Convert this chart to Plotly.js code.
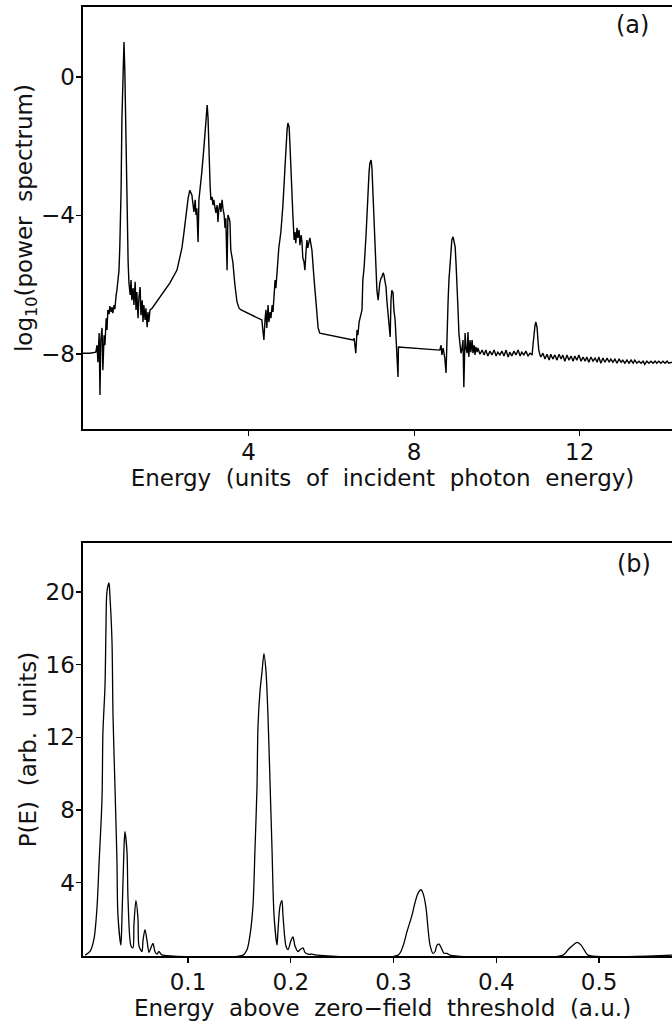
<!DOCTYPE html>
<html>
<head>
<meta charset="utf-8">
<script src="https://cdn.plot.ly/plotly-3.0.1.min.js"></script>
<style>
html, body { margin: 0; padding: 0; overflow: hidden; background: #fff; }
#chart { width: 690px; height: 1034px; }
</style>
</head>
<body>
<div id="chart"></div>
<script>
// Panel (a): log10(power spectrum) vs energy (units of incident photon energy)
const aEnergy = [
 0.00,0.17,0.31,0.34,0.36,0.39,0.41,0.43,0.46,0.48,0.51,0.53,0.56,0.58,0.60,0.63,0.65,0.68,0.70,0.72,
 0.75,0.77,0.80,0.82,0.85,0.87,0.89,0.92,0.94,0.97,0.99,1.01,1.04,1.06,1.09,1.11,1.14,1.16,1.18,1.21,
 1.23,1.26,1.28,1.30,1.33,1.35,1.38,1.40,1.43,1.45,1.47,1.50,1.52,1.55,1.57,1.59,1.62,1.67,
 1.86,2.10,2.27,2.34,2.39,2.44,2.49,2.54,2.58,2.63,2.66,2.68,2.71,2.73,2.75,2.78,2.80,2.83,2.87,2.92,
 2.97,3.00,3.02,3.04,3.07,3.09,3.12,3.14,3.16,3.19,3.21,3.24,3.26,3.28,3.31,3.33,3.36,3.38,3.41,3.43,
 3.45,3.48,3.50,3.53,3.55,3.57,3.62,3.67,3.72,3.77,3.82,
 4.32,4.35,4.37,4.40,4.42,4.44,4.47,4.49,4.52,4.54,4.57,4.59,4.61,4.64,4.66,4.69,4.71,4.73,4.78,4.83,
 4.88,4.90,4.93,4.95,4.98,5.00,5.02,5.05,5.07,5.10,5.12,5.14,5.17,5.19,5.22,5.24,5.27,5.29,5.31,5.34,
 5.36,5.39,5.41,5.43,5.46,5.48,5.51,5.53,5.58,5.63,5.68,5.72,
 6.21,6.52,6.55,6.57,6.59,6.62,6.64,6.67,6.69,6.74,6.76,6.79,6.84,6.88,6.91,6.93,6.96,6.98,7.00,7.03,
 7.05,7.08,7.10,7.13,7.15,7.17,7.20,7.22,7.25,7.27,7.29,7.32,7.34,7.37,7.39,7.42,7.44,7.46,7.49,7.51,
 7.54,7.56,7.58,7.61,7.62,
 8.62,8.65,8.67,8.70,8.72,8.74,8.77,8.79,8.82,8.84,8.86,8.89,8.91,8.94,8.96,8.99,9.01,9.03,9.06,9.08,
 9.11,9.13,9.15,9.18,9.20,9.23,9.25,9.28,9.30,9.32,9.35,9.37,9.40,9.42,9.45,9.47,9.49,9.52,9.54,9.59,
 9.64,9.69,9.73,9.78,9.83,9.88,9.93,9.98,10.02,10.07,10.12,10.17,10.22,10.27,10.31,10.36,10.41,10.46,10.51,10.56,
 10.60,10.65,10.70,10.75,10.80,10.85,10.87,10.89,10.92,10.94,10.97,10.99,11.01,11.04,11.06,
 11.11,11.16,11.21,11.26,11.30,11.35,11.40,11.45,11.50,11.55,11.59,11.64,11.69,11.74,11.79,11.84,11.88,11.93,11.98,12.03,
 12.08,12.13,12.17,12.22,12.27,12.32,12.37,12.42,12.46,12.51,12.56,12.61,12.66,12.71,12.75,12.80,12.85,12.90,12.95,13.00,
 13.04,13.09,13.14,13.19,13.24,13.29,13.33,13.38,13.43,13.48,13.53,13.57,13.62,13.67,13.72,13.77,13.82,13.86,13.91,13.96,
 14.01,14.06,14.11,14.15,14.23
];
const aLogPower = [
 -7.98,-7.98,-7.95,-7.75,-8.24,-7.40,-9.19,-7.60,-7.25,-8.47,-7.46,-7.75,-6.97,-7.31,-6.73,-6.85,-6.62,-6.79,-6.65,-6.82,
 -6.59,-6.71,-6.30,-6.16,-5.81,-5.58,-4.86,-3.27,-1.24,0.49,1.01,0.20,-2.11,-4.13,-5.35,-5.95,-6.30,-5.87,-6.45,-6.10,
 -6.59,-5.92,-6.73,-6.21,-6.97,-6.39,-6.07,-6.88,-6.45,-7.08,-6.59,-7.02,-6.68,-7.23,-6.79,-7.08,-6.73,-6.68,
 -6.36,-5.95,-5.58,-5.20,-4.94,-4.48,-3.96,-3.50,-3.27,-3.41,-3.70,-3.90,-3.55,-3.99,-3.79,-4.77,-3.55,-3.27,-2.75,-2.05,
 -1.24,-0.81,-1.18,-2.11,-3.12,-3.55,-3.47,-3.70,-3.55,-3.79,-3.93,-3.70,-4.19,-3.84,-3.64,-3.90,-3.55,-3.79,-3.99,-4.36,
 -4.08,-5.58,-3.99,-4.08,-4.19,-5.00,-5.35,-6.01,-6.50,-6.68,-6.73,
 -7.02,-7.31,-7.60,-6.97,-6.73,-7.25,-6.59,-7.08,-6.79,-6.97,-6.59,-6.79,-6.30,-5.87,-6.10,-5.49,-5.00,-4.94,-4.48,-3.70,
 -2.60,-2.05,-1.53,-1.33,-1.45,-1.97,-2.69,-3.41,-3.99,-4.71,-4.48,-4.80,-4.36,-4.65,-4.42,-4.86,-4.57,-4.77,-5.23,-5.35,
 -5.58,-5.00,-4.71,-4.94,-4.80,-4.65,-4.86,-5.00,-5.81,-6.59,-7.25,-7.40,
 -7.51,-7.60,-7.55,-7.83,-7.98,-7.31,-7.46,-7.08,-6.97,-6.73,-5.87,-5.52,-4.51,-3.18,-2.75,-2.49,-2.40,-2.63,-3.18,-3.99,
 -4.71,-5.52,-6.16,-6.45,-6.21,-5.95,-5.81,-5.78,-5.66,-5.72,-5.87,-6.07,-6.45,-6.94,-7.17,-7.51,-6.45,-6.16,-6.24,-6.73,
 -7.02,-7.46,-7.69,-8.67,-7.80,
 -7.89,-7.75,-8.03,-7.83,-7.95,-8.12,-8.55,-7.40,-6.45,-5.87,-5.43,-5.09,-4.71,-4.62,-4.71,-4.91,-5.35,-6.16,-6.73,-7.40,
 -7.75,-7.98,-7.89,-7.60,-8.96,-7.40,-7.83,-7.98,-7.37,-8.09,-7.60,-7.95,-7.60,-7.98,-7.75,-8.03,-7.80,-7.95,-7.83,-8.01,
 -7.89,-8.03,-7.89,-8.06,-7.92,-8.03,-7.89,-8.06,-7.95,-8.03,-7.92,-8.06,-7.89,-8.09,-7.95,-8.06,-7.92,-8.03,-7.89,-8.06,
 -7.95,-8.03,-7.92,-8.06,-7.98,-8.03,-7.75,-7.40,-7.17,-7.08,-7.25,-7.60,-7.89,-8.03,-8.09,
 -7.98,-8.15,-8.01,-8.18,-8.01,-8.15,-8.03,-8.18,-8.01,-8.15,-8.03,-8.21,-8.03,-8.18,-8.06,-8.21,-8.06,-8.18,-8.03,-8.21,
 -8.09,-8.21,-8.09,-8.24,-8.09,-8.21,-8.12,-8.24,-8.09,-8.27,-8.12,-8.24,-8.12,-8.24,-8.15,-8.24,-8.15,-8.27,-8.15,-8.24,
 -8.18,-8.27,-8.18,-8.27,-8.18,-8.27,-8.18,-8.27,-8.21,-8.27,-8.21,-8.30,-8.21,-8.27,-8.21,-8.27,-8.21,-8.27,-8.21,-8.27,
 -8.21,-8.27,-8.21,-8.27,-8.24
];
const aXTicks = [4, 8, 12];
const aYTicks = [0, -4, -8];

// Panel (b): P(E) vs energy above zero-field threshold (a.u.)
const bEnergy = [
 0.0000,0.0046,0.0085,0.0114,0.0133,0.0163,0.0172,0.0192,0.0201,0.0211,0.0231,0.0240,0.0260,0.0270,0.0289,0.0308,0.0318,0.0347,0.0357,0.0377,
 0.0386,0.0406,0.0416,0.0445,0.0464,0.0474,0.0493,0.0513,0.0523,0.0552,0.0562,0.0581,0.0601,0.0620,0.0639,0.0659,0.0678,0.0698,0.0717,0.0737,
 0.0756,0.1535,0.1574,0.1603,0.1632,0.1652,0.1671,0.1681,0.1700,0.1720,0.1739,0.1759,0.1778,0.1798,0.1817,0.1837,0.1866,0.1875,0.1895,0.1914,
 0.1924,0.1953,0.1973,0.2002,0.2021,0.2041,0.2070,0.2090,0.2119,0.2138,0.2168,0.2207,0.2255,0.3044,0.3092,0.3131,0.3180,0.3209,0.3238,0.3267,
 0.3287,0.3316,0.3335,0.3355,0.3384,0.3404,0.3423,0.3443,0.3472,0.3491,0.3520,0.3550,0.4649,0.4698,0.4746,0.4786,0.4825,0.4864,0.4893,0.5710
];
const bProb = [
 0.0,0.2,0.9,2.6,4.9,8.6,12.3,14.8,17.8,20.0,20.5,19.8,17.3,13.2,9.3,5.3,2.2,0.55,2.0,5.9,
 6.8,5.7,3.1,0.5,0.4,1.7,3.0,2.0,0.5,0.2,0.8,1.4,0.8,0.15,0.4,0.65,0.2,0.05,0.2,0.05,
 0.0,0.0,0.3,1.1,2.7,5.9,9.2,12.6,14.5,15.6,16.6,15.6,13.2,9.5,5.9,2.2,0.55,1.3,2.7,3.0,
 2.2,0.5,0.3,0.8,1.0,0.5,0.2,0.3,0.4,0.15,0.05,0.05,0.0,0.0,0.5,1.3,2.2,2.9,3.4,3.6,
 3.4,2.6,1.5,0.55,0.1,0.2,0.55,0.6,0.3,0.1,0.1,0.0,0.0,0.3,0.55,0.7,0.55,0.2,0.0,0.0
];
const bXTicks = [0.1, 0.2, 0.3, 0.4, 0.5];
const bYTicks = [4, 8, 12, 16, 20];

const FONT = 'DejaVu Sans, Arial, sans-serif';
const axisCommon = {
  showline: true, linecolor: '#000', linewidth: 1.6, mirror: true,
  ticks: 'outside', ticklen: 5, tickwidth: 1.3, tickcolor: '#000',
  showgrid: false, zeroline: false,
  tickfont: {family: FONT, size: 23, color: '#111'},
  fixedrange: true
};
const titleFont = {family: FONT, size: 23, color: '#111'};

const traces = [
  {x: aEnergy, y: aLogPower, xaxis: 'x', yaxis: 'y', mode: 'lines',
   line: {color: '#000', width: 1.4}, hoverinfo: 'none'},
  {x: bEnergy, y: bProb, xaxis: 'x2', yaxis: 'y2', mode: 'lines',
   line: {color: '#000', width: 1.3, shape: 'spline', smoothing: 0.8}, hoverinfo: 'none'}
];

const layout = {
  width: 690, height: 1034,
  margin: {l: 83, r: 8, t: 0, b: 0},
  paper_bgcolor: '#fff', plot_bgcolor: '#fff',
  showlegend: false,
  font: {family: FONT, size: 23, color: '#111'},
  xaxis: Object.assign({}, axisCommon, {
    domain: [0, 1], anchor: 'y', range: [0, 14.47],
    tickmode: 'array', tickvals: aXTicks, ticklabelstandoff: -3,
    title: {text: 'Energy\u00a0 (units\u00a0 of\u00a0 incident\u00a0 photon\u00a0 energy)', font: titleFont, standoff: 4}
  }),
  yaxis: Object.assign({}, axisCommon, {
    domain: [0.5851, 0.9932], anchor: 'x', range: [-10.17, 2.02],
    tickmode: 'array', tickvals: aYTicks, ticklabelstandoff: -3,
    title: {text: 'log<sub>10</sub>(power\u00a0 spectrum)', font: titleFont, standoff: 1}
  }),
  xaxis2: Object.assign({}, axisCommon, {
    domain: [0, 1], anchor: 'y2', range: [-0.0022, 0.5807],
    tickmode: 'array', tickvals: bXTicks,
    title: {text: 'Energy\u00a0 above\u00a0 zero\u2212field\u00a0 threshold\u00a0 (a.u.)', font: titleFont, standoff: 4}
  }),
  yaxis2: Object.assign({}, axisCommon, {
    domain: [0.0754, 0.4749], anchor: 'x2', range: [-0.05, 22.7],
    tickmode: 'array', tickvals: bYTicks, ticklabelstandoff: -3,
    title: {text: 'P(E)\u00a0 (arb.\u00a0 units)', font: titleFont, standoff: 2}
  }),
  annotations: [
    {text: '(a)', xref: 'paper', yref: 'paper', x: 632, y: 25, showarrow: false,
     font: {family: FONT, size: 24, color: '#111'}},
    {text: '(b)', xref: 'paper', yref: 'paper', x: 634, y: 564, showarrow: false,
     font: {family: FONT, size: 24, color: '#111'}}
  ]
};
// annotation positions in pixels -> paper coords
layout.annotations.forEach(function (a) {
  a.x = (a.x - 83) / (690 - 83 - 8);
  a.y = (1034 - a.y) / 1034;
  a.xanchor = 'center'; a.yanchor = 'middle';
});

Plotly.newPlot('chart', traces, layout, {displayModeBar: false, staticPlot: true});
</script>
</body>
</html>
